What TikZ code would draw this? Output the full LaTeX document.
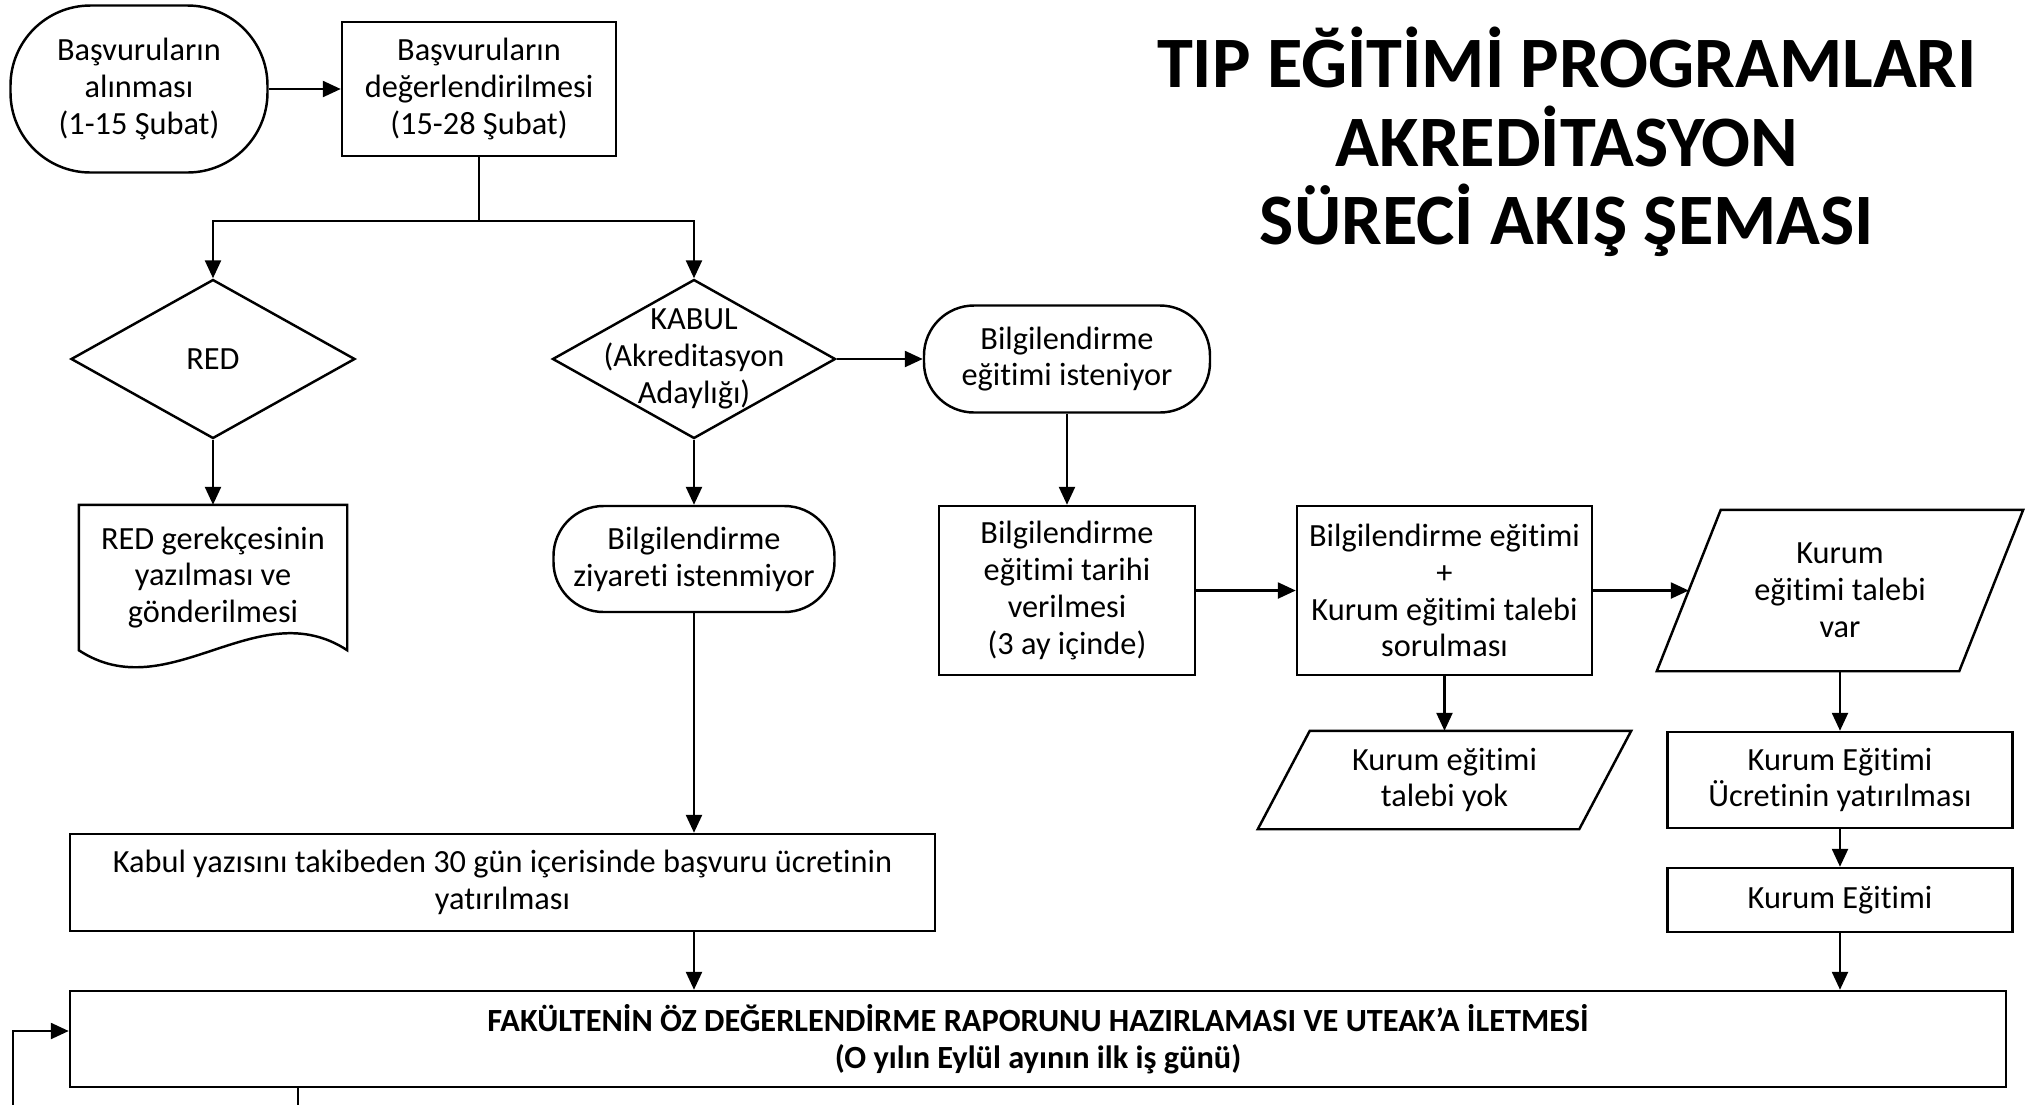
\documentclass[tikz,border=0pt]{standalone}
\usepackage{fontspec}
\setmainfont[Ligatures=CommonOff]{Carlito}
\usetikzlibrary{arrows.meta,shapes.geometric}

\begin{document}
\begin{tikzpicture}[line width=0.7pt,
  >={Triangle[length=1.8mm,width=1.6mm]},
  every node/.style={font=\fontsize{9.2pt}{10.5pt}\selectfont, align=center, inner sep=0pt},
  kutu/.style={draw, rectangle},
  terminal/.style={draw, rectangle, rounded corners=5mm},
  karar/.style={draw, diamond},
  bos/.style={rectangle}]
\useasboundingbox (0mm,0mm) rectangle (202.5mm,-110.5mm);

\node[font=\fontsize{20.6pt}{22.3pt}\selectfont\bfseries] (baslik) at (156.7mm,-14.2mm)
  {TIP EĞİTİMİ PROGRAMLARI\\AKREDİTASYON\\SÜRECİ AKIŞ ŞEMASI};

\node[terminal, rounded corners=8mm, minimum width=25.7mm, minimum height=16.7mm] (alinma) at (13.9mm,-8.9mm) {Başvuruların\\alınması\\(1-15 Şubat)};
\node[kutu, minimum width=27.4mm, minimum height=13.4mm] (degerlendirme) at (47.9mm,-8.9mm) {Başvuruların\\değerlendirilmesi\\(15-28 Şubat)};
\node[karar, minimum width=28.4mm, minimum height=15.9mm] (red) at (21.3mm,-35.9mm) {RED};
\node[karar, minimum width=28.3mm, minimum height=15.9mm] (kabul) at (69.4mm,-35.9mm) {};
\node (kabulmetin) at (kabul) {KABUL\\(Akreditasyon\\Adaylığı)};
\node[terminal, minimum width=28.6mm, minimum height=10.7mm] (egitimisteniyor) at (106.7mm,-35.9mm) {Bilgilendirme\\eğitimi isteniyor};

\node[bos, minimum width=26.6mm, minimum height=14.3mm] (redyazi) at (21.3mm,-57.75mm) {RED gerekçesinin\\yazılması ve\\gönderilmesi};
\draw (redyazi.south east) -- (redyazi.north east) -- (redyazi.north west) -- (redyazi.south west)
  .. controls +(9mm,-5.9mm) and +(-9mm,5.9mm) .. (redyazi.south east) -- cycle;
\node[terminal, minimum width=28.1mm, minimum height=10.6mm] (ziyaret) at (69.4mm,-55.9mm) {Bilgilendirme\\ziyareti istenmiyor};
\node[kutu, minimum width=25.6mm, minimum height=16.9mm] (tarih) at (106.7mm,-59.05mm) {Bilgilendirme\\eğitimi tarihi\\verilmesi\\(3 ay içinde)};
\node[kutu, minimum width=29.5mm, minimum height=16.9mm] (talep) at (144.45mm,-59.05mm) {Bilgilendirme eğitimi\\+\\Kurum eğitimi talebi\\sorulması};

\node[bos, minimum width=30mm, minimum height=15.9mm] (talepvar) at (184mm,-59.05mm) {Kurum\\eğitimi talebi\\var};
\draw ([xshift=3.2mm]talepvar.north west) -- ([xshift=3.2mm]talepvar.north east)
  -- ([xshift=-3.2mm]talepvar.south east) -- ([xshift=-3.2mm]talepvar.south west) -- cycle;
\node[bos, minimum width=31.9mm, minimum height=9.6mm] (talepyok) at (144.45mm,-78mm) {Kurum eğitimi\\talebi yok};
\draw ([xshift=2.6mm]talepyok.north west) -- ([xshift=2.6mm]talepyok.north east)
  -- ([xshift=-2.6mm]talepyok.south east) -- ([xshift=-2.6mm]talepyok.south west) -- cycle;
\node[kutu, minimum width=34.5mm, minimum height=9.6mm] (kurumucret) at (184mm,-78mm) {Kurum Eğitimi\\Ücretinin yatırılması};
\node[kutu, minimum width=34.5mm, minimum height=6.4mm] (kurumegitim) at (184mm,-90mm) {Kurum Eğitimi};

\node[kutu, minimum width=86.5mm, minimum height=9.7mm] (ucret) at (50.25mm,-88.25mm) {Kabul yazısını takibeden 30 gün içerisinde başvuru ücretinin\\yatırılması};
\node[kutu, minimum width=193.6mm, minimum height=9.6mm, font=\fontsize{9.2pt}{10.5pt}\selectfont\bfseries] (rapor) at (103.8mm,-103.9mm)
  {FAKÜLTENİN ÖZ DEĞERLENDİRME RAPORUNU HAZIRLAMASI VE UTEAK’A İLETMESİ\\(O yılın Eylül ayının ilk iş günü)};

\coordinate (ayrim) at ([yshift=-6.4mm]degerlendirme.south);
\coordinate (donus) at (1.3mm,-110.5mm);
\coordinate (cikis) at (29.8mm,-110.5mm);

\draw[->] (alinma) -- (degerlendirme);
\draw (degerlendirme.south) -- (ayrim);
\draw[->] (ayrim) -| (red.north);
\draw[->] (ayrim) -| (kabul.north);
\draw[->] (kabul) -- (egitimisteniyor);
\draw[->] (red) -- (redyazi);
\draw[->] (kabul) -- (ziyaret);
\draw[->] (ziyaret) -- (ziyaret |- ucret.north);
\draw[->] (egitimisteniyor) -- (tarih);
\draw[->] (tarih) -- (talep);
\draw[->] (talep) -- (talepvar);
\draw[->] (talep.south) -- (talep.south |- talepyok.north);
\draw[->] (talepvar) -- (kurumucret);
\draw[->] (kurumucret) -- (kurumegitim);
\draw[->] (kurumegitim) -- (kurumegitim |- rapor.north);
\draw[->] (ucret.south -| ziyaret) -- (ziyaret |- rapor.north);
\draw[->] (donus) |- ([yshift=0.8mm]rapor.west);
\draw (rapor.south -| cikis) -- (cikis);
\end{tikzpicture}
\end{document}
